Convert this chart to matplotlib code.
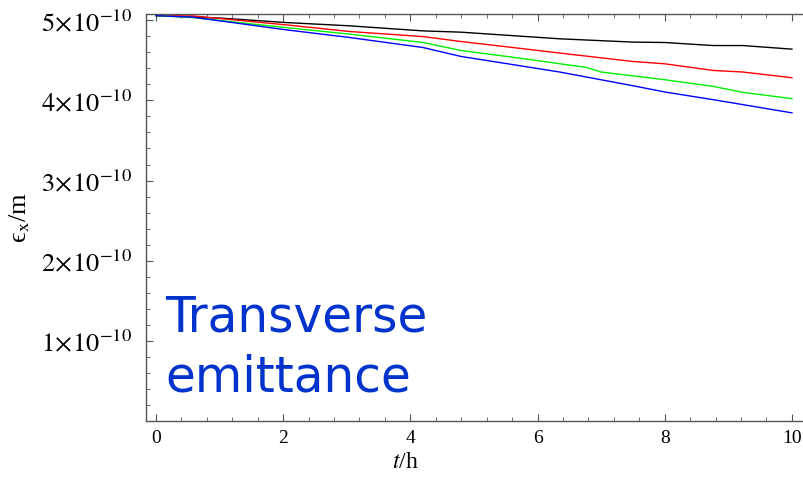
import matplotlib
matplotlib.use("Agg")
import matplotlib.pyplot as plt
from matplotlib.ticker import MultipleLocator, FixedLocator

plt.rcParams['mathtext.fontset'] = 'stix'
plt.rcParams['font.family'] = ['Liberation Serif', 'DejaVu Serif']

# data (emittance in units of 1e-10 m, time in hours)
t_black = [0, 1.05, 2.05, 3.05, 4.2, 4.8, 6.35, 7.5, 8.0, 8.76, 9.23, 10]
e_black = [5.06, 5.027, 4.973, 4.932, 4.869, 4.853, 4.770, 4.729, 4.724, 4.686, 4.686, 4.641]

t_red = [0, 0.58, 2.05, 3.05, 4.2, 4.8, 5.83, 6.35, 7.5, 8.0, 8.76, 9.23, 10]
e_red = [5.06, 5.056, 4.944, 4.861, 4.798, 4.736, 4.641, 4.592, 4.487, 4.458, 4.375, 4.355, 4.284]

t_green = [0, 0.58, 2.05, 3.05, 4.2, 4.8, 5.83, 6.77, 7.0, 8.0, 8.76, 9.23, 10]
e_green = [5.06, 5.035, 4.910, 4.828, 4.724, 4.624, 4.517, 4.412, 4.355, 4.259, 4.176, 4.101, 4.023]

t_blue = [0, 0.58, 2.05, 3.05, 4.2, 4.8, 5.46, 6.35, 7.5, 8.0, 8.76, 9.23, 10]
e_blue = [5.06, 5.040, 4.882, 4.786, 4.661, 4.549, 4.467, 4.355, 4.184, 4.106, 4.010, 3.948, 3.845]

x_ticks = [0, 2, 4, 6, 8, 10]
y_ticks = [1, 2, 3, 4, 5]
y_tick_labels = [r'$1\!\times\!10^{-10}$', r'$2\!\times\!10^{-10}$', r'$3\!\times\!10^{-10}$',
                 r'$4\!\times\!10^{-10}$', r'$5\!\times\!10^{-10}$']

W, H = 804, 484
fig = plt.figure(figsize=(W / 100, H / 100), dpi=100)
AX_L, AX_T, AX_B = 146, 14, 420.7
ax = fig.add_axes([AX_L / W, (H - AX_B) / H, 1.0 - AX_L / W, (AX_B - AX_T) / H])

scale = 1e-10
ax.plot(t_black, [v * scale for v in e_black], color='black', lw=1.0)
ax.plot(t_red, [v * scale for v in e_red], color='#ff0000', lw=1.0)
ax.plot(t_green, [v * scale for v in e_green], color='#00ee00', lw=1.0)
ax.plot(t_blue, [v * scale for v in e_blue], color='#0000ff', lw=1.0)

ax.set_xlim(-0.157, 10.19)
ax.set_ylim(0, 5.08e-10)

ax.xaxis.set_major_locator(FixedLocator(x_ticks))
ax.xaxis.set_minor_locator(MultipleLocator(0.4))
ax.yaxis.set_major_locator(FixedLocator([v * scale for v in y_ticks]))
ax.yaxis.set_minor_locator(MultipleLocator(0.2e-10))
ax.set_xticklabels([str(v) for v in x_ticks], fontsize=14)
ax.set_yticklabels(y_tick_labels, fontsize=19)

for s in ['left', 'bottom', 'top']:
    ax.spines[s].set_color('#555555')
    ax.spines[s].set_linewidth(1.0)
ax.spines['right'].set_visible(False)

ax.tick_params(which='both', direction='in', top=True, right=False, color='#555555')
ax.tick_params(which='major', length=5, width=0.8)
ax.tick_params(axis='y', which='major', pad=10)
ax.tick_params(axis='x', which='major', pad=7)
ax.tick_params(which='minor', length=3, width=0.6)

ax.set_xlabel(r'$t$/h', fontsize=17)
ax.set_ylabel('\u03f5$_{\\mathrm{x}}$/m', fontsize=19)
pw = W - AX_L
ph = AX_B - AX_T
ax.xaxis.set_label_coords((405 - AX_L) / pw, (AX_B - 452) / ph)
ax.yaxis.set_label_coords((32 - AX_L) / pw, (AX_B - 217) / ph)

fig.text(165 / W, 1 - 332 / H, 'Transverse', fontsize=35, color='#0033cc',
         family='DejaVu Sans', ha='left', va='baseline')
fig.text(165 / W, 1 - 392 / H, 'emittance', fontsize=35, color='#0033cc',
         family='DejaVu Sans', ha='left', va='baseline')

fig.savefig('out.png', dpi=100)
